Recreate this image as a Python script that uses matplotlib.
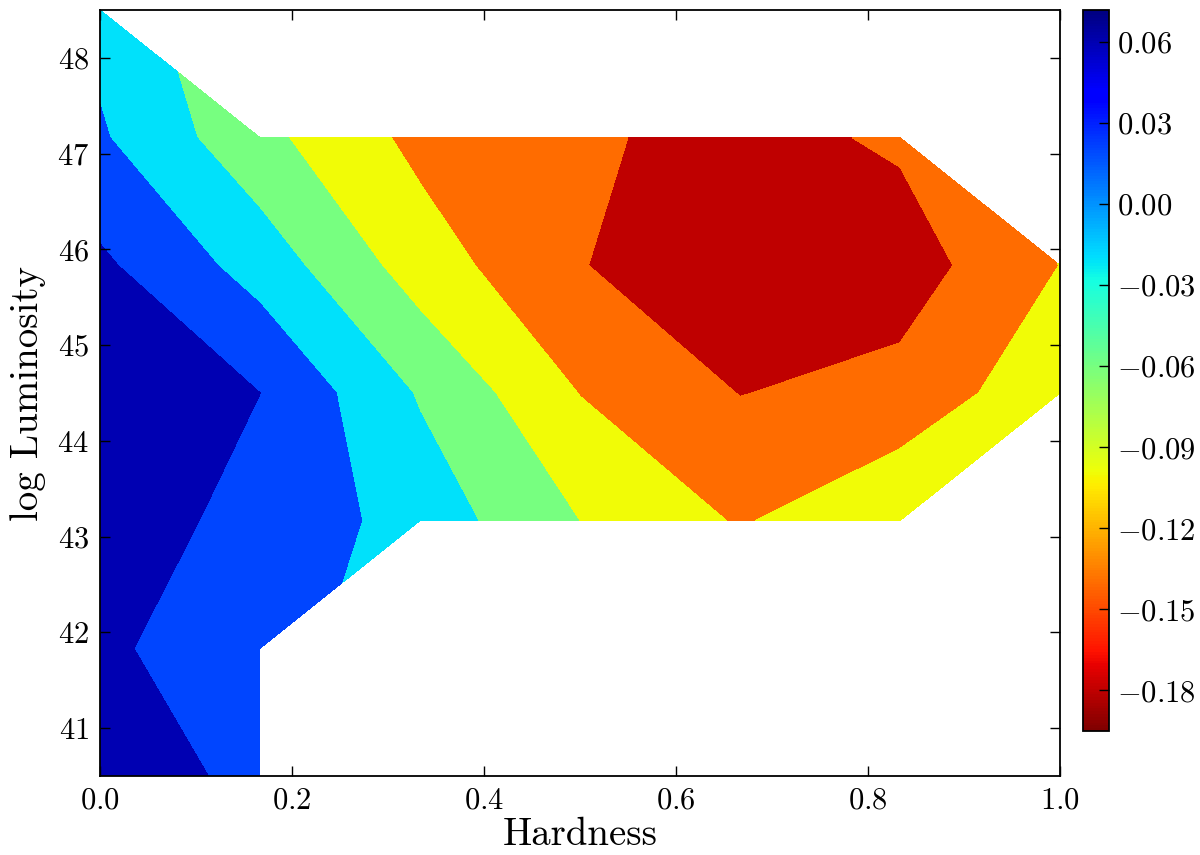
import numpy as np
import matplotlib
matplotlib.use('Agg')
import matplotlib.pyplot as plt
from matplotlib.colors import Normalize
from matplotlib.cm import ScalarMappable

plt.rcParams['font.family'] = 'serif'
plt.rcParams['font.serif'] = ['cmr10']
plt.rcParams['mathtext.fontset'] = 'cm'
plt.rcParams['axes.formatter.use_mathtext'] = True
plt.rcParams['axes.unicode_minus'] = True

nan = np.nan

# grid of the map
hardness = [0.0, 1/6, 1/3, 0.5, 2/3, 5/6, 1.0]
lum = [40.5, 41.8333, 43.1667, 44.5, 45.8333, 47.1667, 48.5]

# values, one row per luminosity bin (bottom to top)
z_row0 = [0.061, 0.030, nan, nan, nan, nan, nan]
z_row1 = [0.046, 0.0177, nan, nan, nan, nan, nan]
z_row2 = [0.057, 0.0296, -0.017, -0.0805, -0.1236, -0.085, nan]
z_row3 = [0.072, 0.0401, -0.044, -0.121, -0.161, -0.147, -0.092]
z_row4 = [0.0473, -0.017, -0.100, -0.158, -0.195, -0.180, -0.1195]
z_row5 = [0.0046, -0.069, -0.131, -0.154, -0.174, -0.154, nan]
z_row6 = [-0.013, nan, nan, nan, nan, nan, nan]

levels = [-0.20, -0.16, -0.12, -0.08, -0.04, 0.00, 0.04, 0.08]
cbar_ticks = [-0.18, -0.15, -0.12, -0.09, -0.06, -0.03, 0.00, 0.03, 0.06]

Z = np.array([z_row0, z_row1, z_row2, z_row3, z_row4, z_row5, z_row6])
X, Y = np.meshgrid(hardness, lum)
zmin = np.nanmin(Z)
zmax = np.nanmax(Z)

fig = plt.figure(figsize=(12, 8.55), dpi=100)
ax = fig.add_axes([0.0833, 0.0924, 0.8, 0.8959])
ax.contourf(X, Y, Z, levels=levels, cmap='jet_r', vmin=zmin, vmax=zmax)

ax.set_xlim(0, 1)
ax.set_ylim(40.5, 48.5)
ax.set_xticks([0.0, 0.2, 0.4, 0.6, 0.8, 1.0])
ax.set_yticks([41, 42, 43, 44, 45, 46, 47, 48])
ax.tick_params(direction='in', top=True, right=True, length=7, width=1,
               labelsize=22, pad=8)
for s in ax.spines.values():
    s.set_linewidth(1.3)
ax.set_xlabel('Hardness', fontsize=28, labelpad=2)
ax.set_ylabel('log Luminosity', fontsize=28, labelpad=8)

cax = fig.add_axes([0.9025, 0.145, 0.0217, 0.8438])
sm = ScalarMappable(norm=Normalize(zmin, zmax), cmap='jet_r')
cb = fig.colorbar(sm, cax=cax, ticks=cbar_ticks)
cb.ax.tick_params(direction='in', length=7, width=1, labelsize=22, pad=6)
cb.outline.set_linewidth(1.3)

fig.savefig('out.png', dpi=100)
